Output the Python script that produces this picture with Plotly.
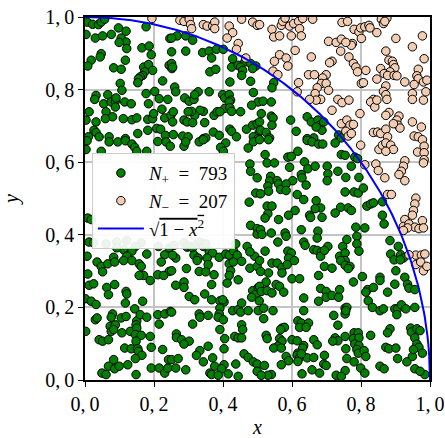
import numpy as np
import plotly.graph_objects as go

# Points inside the quarter circle (N+ = 793)
inside_pts = [
(0.006,0.986),(0.022,0.980),(0.039,0.979),(0.047,0.986),(0.057,0.994),
(0.177,0.973),(0.003,0.952),(0.030,0.942),(0.051,0.948),(0.076,0.952),(0.097,0.970),(0.105,0.942),(0.119,0.961),(0.119,0.931),(0.099,0.930),(0.121,0.913),(0.165,0.915),(0.186,0.920),(0.192,0.896),(0.246,0.941),(0.047,0.899),(0.044,0.890),(0.018,0.881),(0.008,0.865),(0.083,0.860),(0.105,0.856),(0.117,0.881),(0.170,0.862),(0.184,0.869),(0.196,0.853),(0.173,0.849),(0.167,0.839),(0.160,0.835),(0.155,0.830),(0.153,0.819),(0.225,0.824),(0.102,0.817),(0.107,0.798),(0.244,0.867),(0.252,0.858),
(0.032,0.784),(0.028,0.773),(0.066,0.786),(0.054,0.761),(0.076,0.766),(0.088,0.768),(0.088,0.752),(0.090,0.777),(0.115,0.766),(0.134,0.761),(0.177,0.789),(0.202,0.795),(0.184,0.761),(0.215,0.775),(0.240,0.773),(0.012,0.739),(0.061,0.739),(0.080,0.725),(0.059,0.720),(0.032,0.711),(0.003,0.716),(0.111,0.720),(0.136,0.717),(0.150,0.722),(0.182,0.718),(0.196,0.720),(0.199,0.734),(0.223,0.746),(0.231,0.722),(0.249,0.729),(0.026,0.688),(0.032,0.682),(0.010,0.670),(0.041,0.670),(0.070,0.670),(0.117,0.665),(0.153,0.679),(0.182,0.688),(0.208,0.693),(0.219,0.691),(0.233,0.674),
(0.267,0.948),(0.251,0.942),(0.292,0.948),(0.312,0.936),(0.251,0.904),(0.292,0.906),(0.341,0.902),(0.360,0.906),(0.367,0.887),(0.381,0.911),(0.401,0.911),(0.428,0.885),(0.463,0.876),(0.480,0.872),(0.495,0.865),(0.425,0.862),(0.444,0.867),(0.451,0.862),(0.457,0.853),(0.454,0.839),(0.486,0.858),(0.362,0.849),(0.379,0.856),(0.420,0.821),(0.480,0.823),(0.251,0.872),(0.254,0.862),
(0.260,0.807),(0.263,0.794),(0.289,0.777),(0.302,0.768),(0.316,0.773),(0.328,0.794),(0.318,0.786),(0.360,0.794),(0.399,0.786),(0.405,0.777),(0.418,0.786),(0.422,0.771),(0.418,0.766),(0.488,0.792),(0.502,0.766),(0.483,0.757),(0.405,0.748),(0.420,0.750),(0.425,0.740),(0.451,0.739),(0.343,0.740),(0.333,0.743),(0.318,0.729),(0.309,0.740),(0.299,0.739),(0.256,0.739),(0.254,0.711),(0.287,0.716),(0.296,0.711),(0.312,0.709),(0.347,0.709),(0.374,0.729),(0.383,0.739),(0.391,0.739),(0.372,0.683),(0.389,0.674),(0.420,0.691),(0.425,0.685),(0.468,0.691),(0.486,0.702),(0.499,0.706),(0.505,0.683),(0.256,0.676),(0.283,0.672),(0.299,0.670),(0.343,0.665),(0.350,0.667),(0.488,0.670),(0.502,0.665),(0.439,0.670),
(0.547,0.819),(0.542,0.805),(0.516,0.768),(0.540,0.766),(0.511,0.734),(0.540,0.727),(0.545,0.722),(0.506,0.711),(0.509,0.688),(0.525,0.682),(0.535,0.667),(0.542,0.702),(0.596,0.716),(0.612,0.685),(0.644,0.725),(0.656,0.711),(0.663,0.667),(0.675,0.716),(0.680,0.702),(0.687,0.688),(0.692,0.711),(0.670,0.697),(0.644,0.665),(0.735,0.675),(0.743,0.667),
(0.006,0.659),(0.003,0.635),(0.047,0.630),(0.070,0.656),(0.095,0.656),(0.117,0.659),(0.136,0.650),(0.144,0.641),(0.150,0.630),(0.179,0.630),(0.211,0.657),(0.235,0.656),(0.247,0.644),(0.008,0.446),(0.018,0.442),(0.012,0.380),(0.025,0.378),(0.061,0.375),(0.092,0.380),(0.121,0.384),(0.163,0.378),(0.146,0.368),(0.136,0.355),(0.112,0.359),(0.092,0.364),(0.213,0.368),(0.006,0.341),(0.083,0.338),(0.121,0.341),(0.179,0.347),(0.231,0.345),(0.244,0.364),
(0.287,0.644),(0.292,0.656),(0.331,0.656),(0.343,0.662),(0.408,0.653),(0.393,0.641),(0.401,0.630),(0.488,0.656),(0.473,0.639),(0.478,0.595),(0.480,0.575),(0.499,0.557),(0.495,0.515),(0.476,0.490),(0.480,0.426),(0.499,0.417),(0.499,0.402),(0.258,0.371),(0.287,0.378),(0.296,0.366),(0.304,0.368),(0.312,0.364),(0.325,0.375),(0.335,0.380),(0.343,0.368),(0.350,0.375),(0.360,0.355),(0.370,0.350),(0.389,0.338),(0.408,0.347),(0.418,0.344),(0.431,0.355),(0.437,0.375),(0.441,0.344),(0.470,0.368),(0.492,0.341),(0.478,0.353),(0.263,0.336),(0.254,0.344),(0.316,0.344),(0.328,0.336),(0.354,0.336),
(0.506,0.662),(0.532,0.662),(0.644,0.660),(0.658,0.656),(0.677,0.650),(0.689,0.650),(0.725,0.653),(0.522,0.621),(0.528,0.598),(0.549,0.598),(0.588,0.614),(0.598,0.616),(0.617,0.630),(0.593,0.586),(0.636,0.601),(0.646,0.582),(0.667,0.589),(0.702,0.589),(0.704,0.568),(0.702,0.549),(0.733,0.575),(0.743,0.621),(0.754,0.619),(0.627,0.566),(0.629,0.557),(0.602,0.549),(0.538,0.561),(0.535,0.548),(0.530,0.534),(0.532,0.520),(0.509,0.513),(0.557,0.549),(0.561,0.540),(0.567,0.525),(0.583,0.540),(0.583,0.522),(0.615,0.511),(0.641,0.537),(0.634,0.497),(0.670,0.494),(0.683,0.474),(0.667,0.472),(0.687,0.448),(0.651,0.454),(0.654,0.448),(0.609,0.467),(0.590,0.454),(0.561,0.442),(0.528,0.479),(0.542,0.479),(0.530,0.458),(0.522,0.446),(0.741,0.476),(0.725,0.460),(0.754,0.518),(0.509,0.414),(0.513,0.401),(0.540,0.405),(0.559,0.380),(0.580,0.405),(0.583,0.396),(0.627,0.414),(0.634,0.380),(0.638,0.371),(0.675,0.410),(0.673,0.391),(0.663,0.359),(0.673,0.357),(0.685,0.353),(0.683,0.341),(0.704,0.368),(0.694,0.357),(0.522,0.355),(0.588,0.355),(0.598,0.350),(0.590,0.336),(0.747,0.368),(0.738,0.341),(0.754,0.350),(0.754,0.329),
(0.782,0.614),(0.790,0.610),(0.772,0.589),(0.756,0.558),(0.794,0.558),(0.780,0.518),(0.792,0.515),(0.807,0.529),(0.763,0.474),(0.772,0.467),(0.817,0.479),(0.828,0.485),(0.836,0.488),(0.862,0.491),(0.862,0.454),(0.867,0.430),(0.811,0.419),(0.785,0.421),(0.788,0.396),(0.759,0.387),(0.788,0.375),(0.794,0.355),(0.884,0.384),(0.908,0.368),(0.886,0.347),(0.915,0.345),(0.923,0.336),
(0.035,0.325),(0.047,0.313),(0.051,0.298),(0.066,0.320),(0.086,0.325),(0.112,0.329),(0.136,0.329),(0.157,0.320),(0.163,0.313),(0.170,0.288),(0.157,0.288),(0.189,0.274),(0.221,0.325),(0.244,0.299),(0.211,0.290),(0.228,0.288),(0.008,0.292),(0.012,0.261),(0.025,0.265),(0.063,0.255),(0.086,0.263),(0.068,0.235),(0.119,0.244),(0.121,0.237),(0.167,0.217),(0.117,0.212),(0.001,0.224),(0.018,0.217),(0.032,0.208),(0.080,0.182),(0.076,0.173),(0.030,0.166),(0.035,0.171),(0.105,0.171),(0.119,0.175),(0.144,0.196),(0.150,0.163),(0.148,0.152),(0.160,0.180),(0.179,0.173),(0.073,0.148),(0.088,0.152),(0.076,0.134),(0.083,0.139),(0.107,0.130),(0.131,0.134),(0.150,0.143),(0.146,0.125),(0.163,0.123),(0.148,0.107),(0.189,0.120),(0.211,0.180),(0.215,0.154),(0.231,0.182),(0.247,0.189),(0.041,0.111),(0.051,0.107),(0.068,0.111),(0.002,0.134),(0.115,0.088),(0.134,0.086),(0.153,0.086),(0.155,0.079),(0.165,0.068),(0.146,0.059),(0.225,0.084),(0.192,0.090),(0.083,0.056),(0.068,0.038),(0.086,0.031),(0.099,0.038),(0.124,0.042),(0.049,0.019),(0.061,0.015),(0.148,0.015),(0.192,0.033),(0.215,0.033),(0.231,0.019),(0.240,0.033),(0.242,0.056),
(0.251,0.301),(0.294,0.307),(0.325,0.329),(0.357,0.318),(0.331,0.299),(0.350,0.298),(0.374,0.290),(0.367,0.263),(0.418,0.320),(0.430,0.325),(0.454,0.327),(0.422,0.301),(0.418,0.288),(0.412,0.267),(0.444,0.276),(0.478,0.308),(0.499,0.313),(0.263,0.261),(0.287,0.270),(0.287,0.255),(0.302,0.230),(0.318,0.221),(0.347,0.237),(0.367,0.221),(0.391,0.218),(0.403,0.215),(0.399,0.221),(0.391,0.198),(0.389,0.182),(0.386,0.173),(0.401,0.166),(0.428,0.191),(0.444,0.194),(0.454,0.212),(0.451,0.187),(0.473,0.191),(0.486,0.246),(0.495,0.237),(0.502,0.255),(0.505,0.218),(0.483,0.228),(0.502,0.191),(0.251,0.187),(0.331,0.182),(0.333,0.173),(0.357,0.178),(0.312,0.154),(0.391,0.139),(0.454,0.152),(0.457,0.139),(0.434,0.120),(0.444,0.116),(0.454,0.116),(0.405,0.114),(0.265,0.127),(0.265,0.117),(0.280,0.111),(0.302,0.107),(0.287,0.099),(0.357,0.093),(0.333,0.081),(0.323,0.068),(0.370,0.061),(0.343,0.050),(0.403,0.086),(0.403,0.042),(0.376,0.038),(0.396,0.031),(0.437,0.044),(0.461,0.072),(0.473,0.062),(0.488,0.050),(0.499,0.044),(0.251,0.056),(0.270,0.059),(0.263,0.033),(0.292,0.028),(0.362,0.019),(0.367,0.015),(0.386,0.013),(0.415,0.017),(0.444,0.010),(0.499,0.024),
(0.506,0.329),(0.509,0.299),(0.532,0.295),(0.542,0.322),(0.557,0.322),(0.571,0.310),(0.571,0.295),(0.586,0.318),(0.607,0.329),(0.600,0.279),(0.622,0.279),(0.677,0.288),(0.694,0.313),(0.716,0.308),(0.741,0.329),(0.754,0.316),(0.525,0.270),(0.506,0.258),(0.511,0.244),(0.528,0.246),(0.542,0.240),(0.554,0.263),(0.564,0.258),(0.576,0.242),(0.683,0.252),(0.699,0.244),(0.699,0.228),(0.716,0.233),(0.738,0.249),(0.735,0.228),(0.677,0.217),(0.634,0.226),(0.518,0.198),(0.545,0.191),(0.518,0.169),(0.634,0.191),(0.617,0.163),(0.627,0.157),(0.648,0.157),(0.622,0.145),(0.641,0.145),(0.721,0.178),(0.733,0.151),(0.754,0.198),(0.754,0.182),(0.571,0.143),(0.578,0.145),(0.567,0.139),(0.525,0.123),(0.528,0.114),(0.564,0.114),(0.571,0.107),(0.559,0.093),(0.547,0.088),(0.569,0.088),(0.600,0.111),(0.615,0.108),(0.634,0.095),(0.631,0.088),(0.663,0.111),(0.673,0.097),(0.725,0.116),(0.733,0.108),(0.718,0.107),(0.754,0.120),(0.617,0.074),(0.615,0.068),(0.622,0.061),(0.644,0.061),(0.627,0.072),(0.663,0.062),(0.694,0.068),(0.583,0.065),(0.590,0.053),(0.520,0.040),(0.569,0.042),(0.617,0.051),(0.692,0.044),(0.699,0.040),(0.540,0.015),(0.530,0.013),(0.511,0.013),(0.629,0.017),(0.680,0.019),(0.728,0.013),(0.754,0.026),(0.743,0.010),(0.658,0.028),
(0.768,0.313),(0.763,0.307),(0.804,0.285),(0.778,0.270),(0.855,0.283),(0.855,0.274),(0.901,0.301),(0.898,0.264),(0.927,0.283),(0.935,0.264),(0.939,0.253),(0.956,0.249),(0.877,0.242),(0.819,0.249),(0.814,0.242),(0.836,0.255),(0.821,0.218),(0.759,0.200),(0.756,0.191),(0.833,0.200),(0.855,0.191),(0.865,0.196),(0.898,0.196),(0.906,0.196),(0.904,0.180),(0.917,0.207),(0.930,0.196),(0.956,0.200),(0.884,0.141),(0.877,0.130),(0.944,0.143),(0.946,0.132),(0.962,0.141),(0.971,0.136),(0.956,0.116),(0.962,0.099),(0.968,0.090),(0.978,0.074),(0.985,0.015),(0.780,0.130),(0.792,0.130),(0.778,0.114),(0.794,0.116),(0.828,0.123),(0.782,0.099),(0.794,0.095),(0.788,0.084),(0.792,0.074),(0.809,0.081),(0.814,0.065),(0.756,0.086),(0.759,0.059),(0.780,0.050),(0.872,0.090),(0.881,0.086),(0.901,0.088),(0.906,0.059),(0.933,0.050),(0.949,0.065),(0.952,0.084),(0.956,0.031),(0.971,0.024),(0.855,0.038),(0.867,0.031),(0.799,0.033),(0.811,0.019),(0.896,0.331),(0.914,0.331),
]

# Points outside the quarter circle (N- = 207)
outside_pts = [
(0.194,0.996),
(0.275,0.991),(0.287,0.988),(0.302,0.994),(0.306,0.979),(0.309,0.968),(0.343,0.979),(0.354,0.975),(0.370,0.975),(0.376,0.986),(0.376,0.968),(0.418,0.975),(0.428,0.957),(0.412,0.942),(0.444,0.927),(0.439,0.911),(0.454,0.994),(0.486,0.986),(0.499,0.977),(0.466,0.887),
(0.506,0.979),(0.542,0.966),(0.547,0.945),(0.564,0.948),(0.569,0.977),(0.573,0.988),(0.580,0.997),(0.593,0.975),(0.598,0.948),(0.605,0.982),(0.619,0.988),(0.622,0.968),(0.627,0.948),(0.631,0.996),(0.660,0.994),(0.745,0.985),(0.609,0.908),(0.564,0.896),(0.583,0.887),(0.549,0.878),(0.588,0.865),(0.656,0.890),(0.716,0.878),(0.709,0.874),(0.706,0.933),(0.728,0.930),(0.741,0.906),(0.743,0.939),(0.545,0.851),(0.559,0.841),(0.648,0.841),(0.665,0.841),(0.699,0.841),(0.689,0.832),(0.685,0.817),(0.699,0.817),(0.706,0.798),(0.673,0.805),(0.667,0.789),(0.683,0.773),(0.670,0.771),(0.651,0.773),(0.619,0.819),(0.615,0.794),(0.733,0.773),(0.745,0.764),(0.716,0.743),(0.743,0.706),
(0.761,0.988),(0.780,0.966),(0.794,0.959),(0.799,0.970),(0.811,0.973),(0.823,0.977),(0.826,0.970),(0.801,0.941),(0.775,0.927),(0.772,0.922),(0.756,0.930),(0.765,0.890),(0.778,0.872),(0.785,0.862),(0.790,0.849),(0.814,0.853),(0.846,0.957),(0.859,0.994),(0.875,0.997),(0.865,0.982),(0.869,0.988),(0.901,0.941),(0.978,0.948),(0.949,0.918),(0.872,0.906),(0.881,0.881),(0.891,0.878),(0.894,0.869),(0.898,0.860),(0.884,0.849),(0.857,0.858),(0.867,0.844),(0.877,0.839),(0.896,0.839),(0.904,0.838),(0.927,0.821),(0.846,0.829),(0.983,0.885),(0.966,0.856),(0.962,0.838),(0.966,0.830),(0.981,0.821),(0.991,0.826),(0.954,0.814),(0.801,0.817),(0.807,0.819),(0.872,0.810),(0.865,0.795),(0.872,0.786),(0.875,0.773),(0.836,0.773),(0.828,0.766),(0.840,0.752),(0.846,0.771),(0.797,0.734),(0.765,0.771),(0.949,0.789),(0.949,0.773),(0.981,0.771),(0.988,0.794),(0.881,0.737),(0.872,0.729),(0.910,0.727),(0.904,0.716),(0.907,0.702),(0.913,0.694),(0.894,0.706),(0.949,0.711),(0.975,0.697),(0.836,0.682),(0.848,0.683),(0.857,0.679),(0.872,0.691),(0.877,0.670),(0.954,0.672),(0.966,0.670),(0.759,0.716),(0.768,0.702),(0.778,0.704),(0.756,0.685),(0.763,0.672),(0.772,0.679),
(0.799,0.647),(0.852,0.635),(0.862,0.647),(0.872,0.653),(0.886,0.647),(0.894,0.635),(0.872,0.630),(0.964,0.628),(0.978,0.662),(0.983,0.644),(0.983,0.626),(0.983,0.607),(0.981,0.598),(0.927,0.604),(0.923,0.589),(0.917,0.575),(0.910,0.566),(0.927,0.549),(0.869,0.557),(0.843,0.595),(0.850,0.577),(0.811,0.593),(0.877,0.511),(0.888,0.511),(0.959,0.501),(0.956,0.485),(0.952,0.467),(0.949,0.454),(0.978,0.439),(0.927,0.442),(0.923,0.423),(0.939,0.430),(0.956,0.421),(0.968,0.417),(0.981,0.419),(0.935,0.419),(0.923,0.412),(0.959,0.344),(0.975,0.344),(0.985,0.347),(0.939,0.345),
(0.959,0.318),(0.973,0.325),(0.981,0.301),(0.991,0.313),
]

n_inside = 793
n_outside = 207
tick_vals = [0.0, 0.2, 0.4, 0.6, 0.8, 1.0]
tick_text = ["0,\u20090", "0,\u20092", "0,\u20094", "0,\u20096", "0,\u20098", "1,\u20090"]

in_x, in_y = zip(*inside_pts)
out_x, out_y = zip(*outside_pts)
curve_x = np.linspace(0, 1, 400)
curve_y = np.sqrt(np.clip(1 - curve_x**2, 0, None))

FONT = "'Liberation Serif', 'DejaVu Serif', serif"

fig = go.Figure()
fig.add_trace(go.Scatter(
    x=in_x, y=in_y, mode="markers",
    name=f"<i>N</i><sub>+</sub>\u2002=\u2002{n_inside}",
    marker=dict(size=8.5, color="#008000", line=dict(color="black", width=1)),
))
fig.add_trace(go.Scatter(
    x=out_x, y=out_y, mode="markers",
    name=f"<i>N</i><sub>\u2212</sub>\u2002=\u2002{n_outside}",
    marker=dict(size=8.5, color="#f3cdb1", line=dict(color="black", width=1)),
))
fig.add_trace(go.Scatter(
    x=curve_x, y=curve_y, mode="lines",
    name="\u221a<span style='text-decoration:overline'>1 \u2212 <i>x</i><sup>2</sup></span>",
    line=dict(color="#0000ff", width=2),
))

axis_common = dict(
    range=[0, 1], tickmode="array", tickvals=tick_vals, ticktext=tick_text,
    showline=True, mirror=True, linecolor="black", linewidth=1.5,
    ticks="outside", ticklen=5, tickwidth=1.2, tickcolor="black",
    showgrid=True, gridcolor="#c4c4c4", gridwidth=1.5, zeroline=False,
    tickfont=dict(family=FONT, size=20, color="black"),
    automargin=False,
)

fig.update_layout(
    width=445, height=438,
    margin=dict(l=85, r=15, t=17, b=58),
    paper_bgcolor="white", plot_bgcolor="white",
    font=dict(family=FONT, size=20, color="black"),
    xaxis=dict(**axis_common, title=dict(text="<i>x</i>", font=dict(family=FONT, size=20), standoff=10)),
    yaxis=dict(**axis_common, title=dict(text="<i>y</i>", font=dict(family=FONT, size=20), standoff=30)),
    legend=dict(
        x=0.02, y=0.625, xanchor="left", yanchor="top",
        bgcolor="rgba(255,255,255,0.92)", bordercolor="#cccccc", borderwidth=1,
        font=dict(family=FONT, size=19, color="black"),
        itemwidth=46, tracegroupgap=0,
    ),
    showlegend=True,
)

fig.write_html(
    "out.html",
    config={"displayModeBar": False},
    post_script="document.body.style.margin='0';document.body.style.overflow='hidden';",
)
